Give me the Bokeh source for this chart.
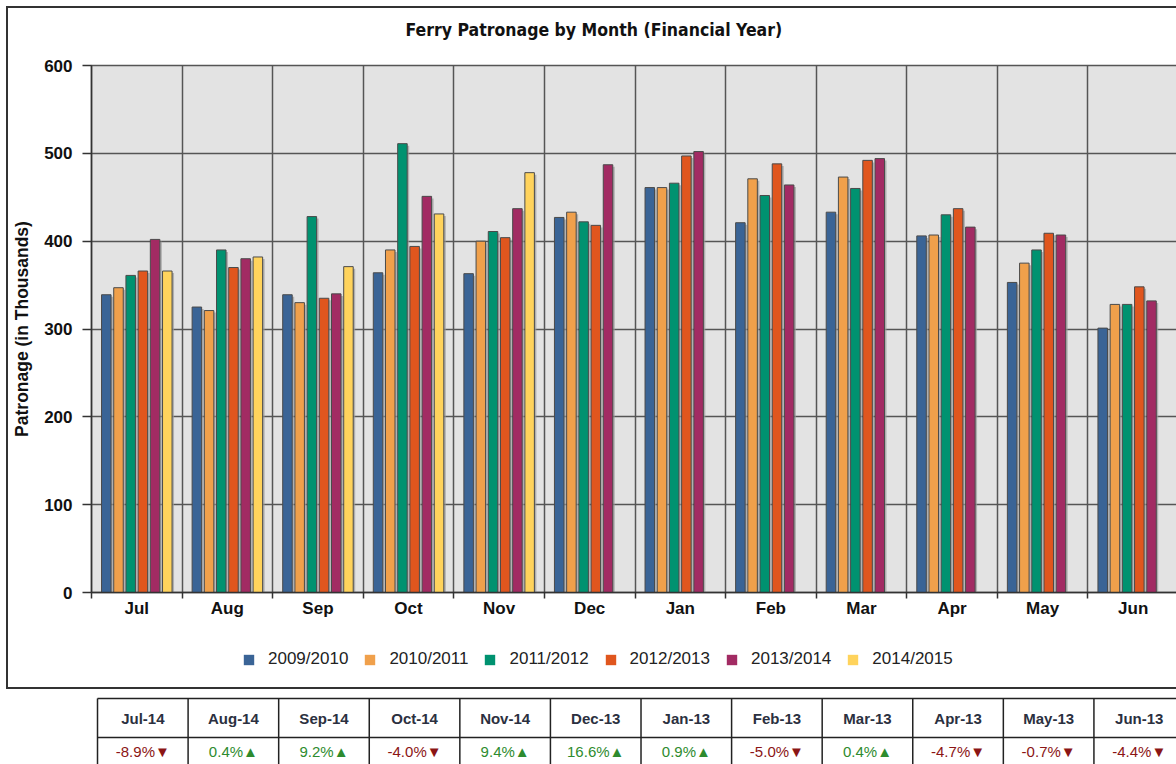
import numpy as np
from bokeh.plotting import figure
from bokeh.models import (Range1d, FixedTicker, Legend, LegendItem, ColumnDataSource, Title)
from bokeh.layouts import column
from bokeh.embed import file_html
from bokeh.resources import INLINE
from bokeh.core.properties import value

# ---------------- data ----------------
months = ["Jul", "Aug", "Sep", "Oct", "Nov", "Dec", "Jan", "Feb", "Mar", "Apr", "May", "Jun"]
series_names = ["2009/2010", "2010/2011", "2011/2012", "2012/2013", "2013/2014", "2014/2015"]
fy_2009_2010 = [339, 325, 339, 364, 363, 427, 461, 421, 433, 406, 353, 301]
fy_2010_2011 = [347, 321, 330, 390, 400, 433, 461, 471, 473, 407, 375, 328]
fy_2011_2012 = [361, 390, 428, 511, 411, 422, 466, 452, 460, 430, 390, 328]
fy_2012_2013 = [366, 370, 335, 394, 404, 418, 497, 488, 492, 437, 409, 348]
fy_2013_2014 = [402, 380, 340, 451, 437, 487, 502, 464, 494, 416, 407, 332]
fy_2014_2015 = [366, 382, 371, 431, 478]

table_headers = ["Jul-14", "Aug-14", "Sep-14", "Oct-14", "Nov-14", "Dec-13",
                 "Jan-13", "Feb-13", "Mar-13", "Apr-13", "May-13", "Jun-13"]
table_changes = [-8.9, 0.4, 9.2, -4.0, 9.4, 16.6, 0.9, -5.0, 0.4, -4.7, -0.7, -4.4]

series_values = [fy_2009_2010, fy_2010_2011, fy_2011_2012, fy_2012_2013, fy_2013_2014, fy_2014_2015]
colors = ["#3A6496", "#F0A04B", "#009270", "#E0561E", "#A22B63", "#FFD35C"]

FONT = "Liberation Sans"
TITLE_FONT = "Liberation Sans Narrow, DejaVu Sans Condensed, Liberation Sans"
W = 1170
GRID = "#555555"
BORDER = "2px solid #333333"

# ---------------- chart ----------------
p = figure(width=W, height=616, x_range=Range1d(0, 12), y_range=Range1d(0, 600),
           output_backend="svg", toolbar_location=None,
           min_border_left=83, min_border_right=0, min_border_top=57, min_border_bottom=32,
           background_fill_color="#E3E3E3", border_fill_color="white",
           outline_line_color=GRID, outline_line_width=1.5,
           styles={"margin-left": "6px", "margin-top": "6px",
                   "border-left": BORDER, "border-top": BORDER})

p.title.text = "Ferry Patronage by Month (Financial Year)"
p.title.align = "left"
p.title.offset = 314
p.title.vertical_align = "middle"
p.title.standoff = 0
p.title.text_font = TITLE_FONT
p.title.text_font_size = "17.5px"
p.title.text_font_style = "bold"
p.title.text_color = "#111111"
# empty spacer between the title and the plot frame
p.add_layout(Title(text=" ", text_font_size="1px", standoff=22), "above")

n_series = len(series_values)
step = 0.1347
bw = 0.105

# shadows
for i, vals in enumerate(series_values):
    xs = [m + 0.5 + (i - (n_series - 1) / 2) * step + 0.022 for m in range(len(vals))]
    tops = [v - 2.3 for v in vals]
    p.vbar(x=xs, top=tops, bottom=0, width=bw, fill_color="#9a9a9a", fill_alpha=0.7,
           line_color=None)

for i, (name, vals, col) in enumerate(zip(series_names, series_values, colors)):
    xs = [m + 0.5 + (i - (n_series - 1) / 2) * step for m in range(len(vals))]
    src = ColumnDataSource(dict(x=xs, top=vals))
    p.vbar(x="x", top="top", bottom=0, width=bw, source=src, fill_color=col,
           line_color="#4a4a4a", line_width=1)

# axes
xax = p.xaxis[0]
xax.ticker = FixedTicker(ticks=[m + 0.5 for m in range(len(months))],
                         minor_ticks=list(range(len(months) + 1)))
xax.major_label_overrides = {m + 0.5: lab for m, lab in enumerate(months)}
xax.major_tick_out = 0
xax.major_tick_in = 0
xax.minor_tick_out = 6
xax.minor_tick_in = 0
xax.minor_tick_line_color = "#333333"
xax.minor_tick_line_width = 1.5
xax.major_label_standoff = 0
xax.major_label_text_font = FONT
xax.major_label_text_font_size = "17px"
xax.major_label_text_font_style = "bold"
xax.major_label_text_color = "#111111"
xax.axis_line_color = "#333333"
xax.axis_line_width = 1.5

yax = p.yaxis[0]
yax.ticker = FixedTicker(ticks=[0, 100, 200, 300, 400, 500, 600])
yax.major_tick_out = 9
yax.major_tick_in = 0
yax.minor_tick_out = 0
yax.minor_tick_in = 0
yax.major_tick_line_color = "#333333"
yax.major_tick_line_width = 1.5
yax.major_label_standoff = 10
yax.major_label_text_font = FONT
yax.major_label_text_font_size = "17px"
yax.major_label_text_font_style = "bold"
yax.major_label_text_color = "#111111"
yax.axis_line_color = "#333333"
yax.axis_line_width = 1.5
yax.axis_label = "Patronage (in Thousands)"
yax.axis_label_text_font = FONT
yax.axis_label_text_font_size = "17.5px"
yax.axis_label_text_font_style = "bold"
yax.axis_label_text_color = "#111111"
yax.axis_label_standoff = 9

p.xgrid.ticker = FixedTicker(ticks=list(range(len(months) + 1)))
p.xgrid.grid_line_color = GRID
p.xgrid.grid_line_width = 1.5
p.ygrid.grid_line_color = GRID
p.ygrid.grid_line_width = 1.5

# ---------------- legend strip ----------------
pl = figure(width=W, height=67, x_range=Range1d(0, 1), y_range=Range1d(0, 1),
            output_backend="svg", toolbar_location=None, min_border=0,
            outline_line_color=None, x_axis_type=None, y_axis_type=None,
            background_fill_color="white", border_fill_color="white",
            styles={"margin-left": "6px", "border-left": BORDER, "border-bottom": BORDER})
pl.grid.visible = False
leg_renderers = []
for col in colors:
    leg_renderers.append(pl.vbar(x=[-10], top=[0], width=0.1, fill_color=col, line_color=None))
legend = Legend(items=[LegendItem(label=n, renderers=[r]) for n, r in zip(series_names, leg_renderers)],
                orientation="horizontal", location=(151, 20),
                glyph_width=13, glyph_height=13, label_standoff=13, spacing=15,
                padding=0, margin=0, border_line_color=None, background_fill_alpha=0,
                label_text_font=FONT, label_text_font_size="17px", label_text_color="#222222")
pl.add_layout(legend, "center")

# ---------------- table ----------------
n_cols = len(table_headers)
shift = 6 / ((W - 2 - 83) / 12.0)
p2 = figure(width=W, height=75,
            x_range=Range1d(-shift, 12 - shift),
            y_range=Range1d(75, 0), output_backend="svg", toolbar_location=None,
            min_border=0, outline_line_color=None, x_axis_type=None, y_axis_type=None,
            background_fill_color="white", border_fill_color="white",
            styles={"margin-left": "6px", "border-left": "2px solid transparent"})
p2.grid.visible = False

bounds = list(range(n_cols + 1))
p2.segment(x0=bounds, x1=bounds, y0=[9] * len(bounds), y1=[75] * len(bounds),
           line_color="#222222", line_width=1.5)
p2.segment(x0=[0, 0], x1=[n_cols, n_cols], y0=[9, 48], y1=[9, 48],
           line_color="#222222", line_width=1.5)

centers = [k + 0.5 for k in range(n_cols)]
p2.text(x=centers, y=[29] * n_cols, text=table_headers, text_align="center",
        text_baseline="middle", text_font=value(FONT), text_font_size="15px",
        text_font_style="bold", text_color="#2b3040")

val_text = [f"{v:.1f}%" + ("\u25B2" if v >= 0 else "\u25BC") for v in table_changes]
val_color = ["#2E8B2E" if v >= 0 else "#8B1515" for v in table_changes]
p2.text(x=centers, y=[62] * n_cols, text=val_text, text_align="center",
        text_baseline="middle", text_font=value(FONT), text_font_size="15px",
        text_color=val_color)

layout = column(p, pl, p2, spacing=0)
open("out.html", "w").write(file_html(layout, INLINE))
